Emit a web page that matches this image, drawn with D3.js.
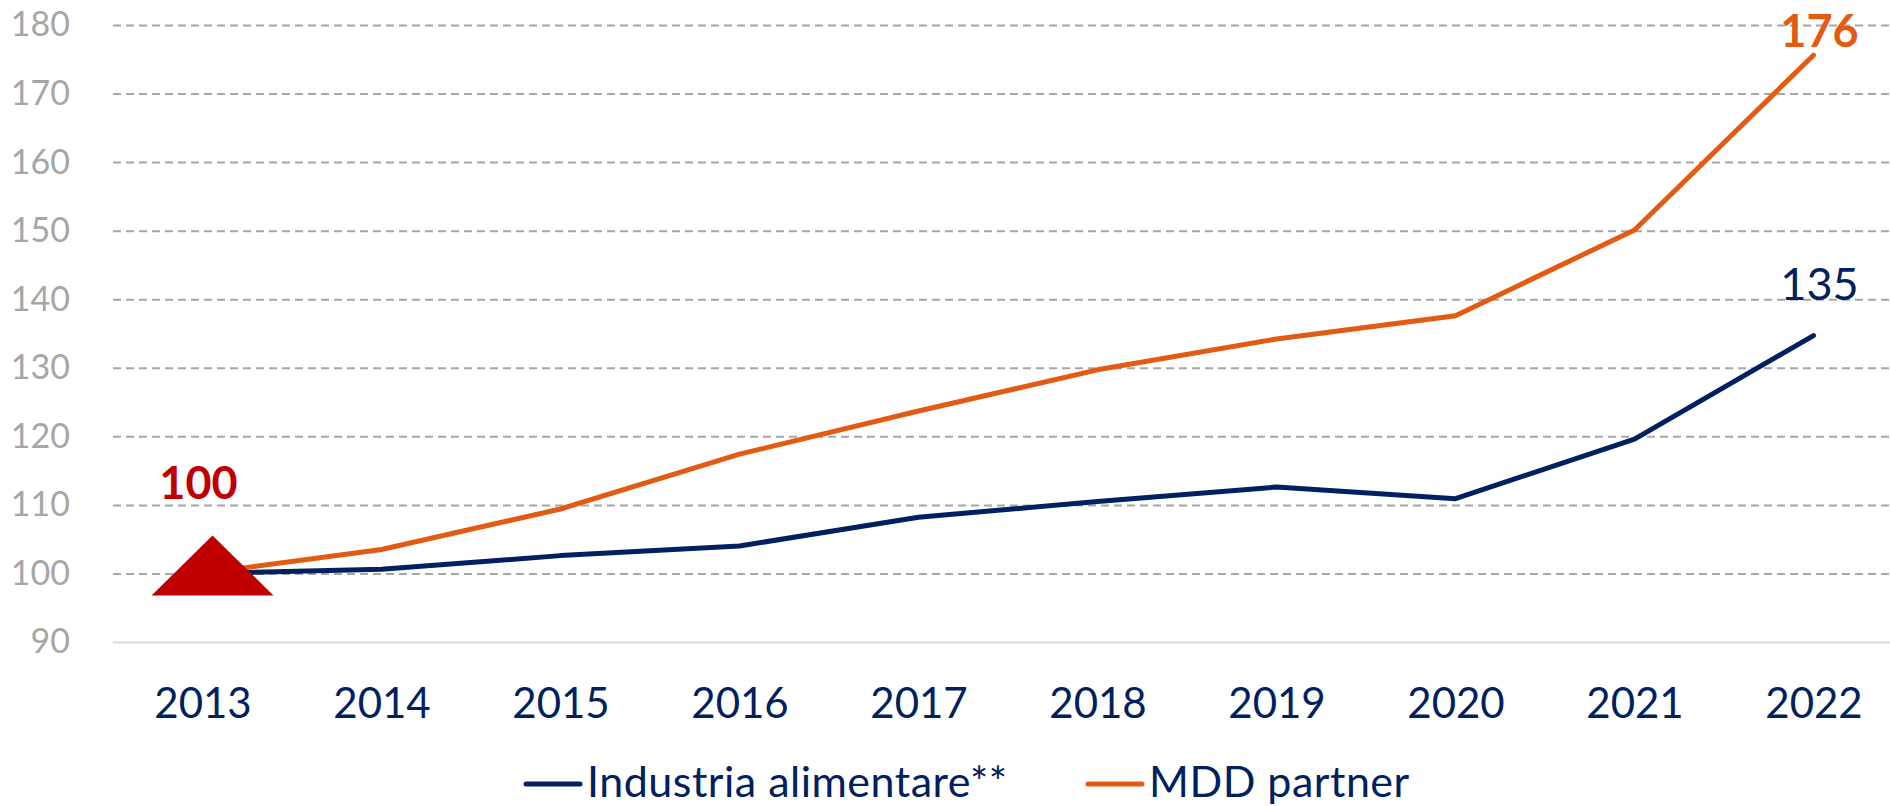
<!DOCTYPE html>
<html>
<head>
<meta charset="utf-8">
<script src="https://cdn.jsdelivr.net/npm/d3@7"></script>
<style>
	body { margin: 0; background: #fff; }
	svg { display: block; font-family: "Lato", "Open Sans", sans-serif; }
	svg text { font-family: "Lato", "Open Sans", sans-serif; }
</style>
</head>
<body>
<div id="chart-area"></div>
<script>

// DATA //
var years = ["2013", "2014", "2015", "2016", "2017", "2018", "2019", "2020", "2021", "2022"];
var industria = [100, 100.6, 102.6, 104.0, 108.2, 110.5, 112.6, 110.9, 119.6, 134.7];
var mdd = [100, 103.5, 109.4, 117.4, 123.7, 129.7, 134.2, 137.6, 150.1, 175.6];
var yTicks = [90, 100, 110, 120, 130, 140, 150, 160, 170, 180];
var seriesNames = ["Industria alimentare**", "MDD partner"];
var endLabels = ["135", "176"];
var startLabel = "100";


/*
 *  LineChart - Object constructor function
 *  @param _parentElement   -- HTML element in which to draw the visualization
 */

LineChart = function(_parentElement) {

	this.parentElement = _parentElement;
	this.series = [
		{name: seriesNames[0], values: industria, color: "#002060", label: endLabels[0], bold: false},
		{name: seriesNames[1], values: mdd, color: "#E35A12", label: endLabels[1], bold: true}
	];

	this.initVis();
}


/*
 *  Initialize chart
 */

LineChart.prototype.initVis = function() {
	var vis = this;

	vis.width = 1890;
	vis.height = 806;

	vis.svg = d3.select('#' + vis.parentElement).append("svg")
		.attr("width", vis.width)
		.attr("height", vis.height);

	vis.x = d3.scalePoint()
		.domain(years)
		.range([113, 1903])
		.padding(0.5);

	vis.y = d3.scaleLinear()
		.domain([90, 180])
		.range([642, 25]);

	// Y AXIS + GRID //
	vis.yAxis = d3.axisLeft(vis.y)
		.tickValues(yTicks)
		.tickSize(-(vis.width - 113))
		.tickPadding(43);

	vis.yAxisGroup = vis.svg.append("g")
		.attr("class", "y-axis")
		.attr("transform", "translate(113,0)")
		.call(vis.yAxis);

	vis.yAxisGroup.select(".domain").remove();
	vis.yAxisGroup.selectAll("line")
		.attr("stroke", function(d) { return d === 90 ? "#D9D9D9" : "#A6A6A6"; })
		.attr("stroke-width", 2)
		.attr("stroke-dasharray", function(d) { return d === 90 ? null : "8,5"; });
	vis.yAxisGroup.selectAll("text")
		.attr("fill", "#A6A6A6")
		.style("font-size", "34px");

	// X AXIS //
	vis.xAxis = d3.axisBottom(vis.x)
		.tickSize(0)
		.tickPadding(46);

	vis.xAxisGroup = vis.svg.append("g")
		.attr("class", "x-axis")
		.attr("transform", "translate(0,642)")
		.call(vis.xAxis);

	vis.xAxisGroup.select(".domain").remove();
	vis.xAxisGroup.selectAll("text")
		.attr("fill", "#002060")
		.style("font-size", "42px");

	vis.updateVis();
}


/*
 *  The drawing function
 */

LineChart.prototype.updateVis = function() {
	var vis = this;

	var line = d3.line()
		.x(function(d, i) { return vis.x(years[i]); })
		.y(function(d) { return vis.y(d); });

	vis.svg.selectAll(".series")
		.data(vis.series)
		.enter().append("path")
		.attr("class", "series")
		.attr("d", function(d) { return line(d.values); })
		.attr("fill", "none")
		.attr("stroke", function(d) { return d.color; })
		.attr("stroke-width", 5)
		.attr("stroke-linecap", "round")
		.attr("stroke-linejoin", "round");

	// start marker
	var x0 = vis.x(years[0]);
	var y0 = vis.y(industria[0]);
	vis.svg.append("path")
		.attr("d", "M" + (x0 - 51) + "," + (y0 + 22) +
			"L" + (x0 + 10) + "," + (y0 - 38) +
			"L" + (x0 + 71) + "," + (y0 + 22) + "Z")
		.attr("fill", "#C00000");

	vis.svg.append("text")
		.attr("x", x0 - 4)
		.attr("y", y0 - 74)
		.attr("text-anchor", "middle")
		.attr("fill", "#C00000")
		.style("font-size", "45px")
		.style("font-weight", "bold")
		.text(startLabel);

	// end labels
	var last = years.length - 1;
	vis.svg.selectAll(".end-label")
		.data(vis.series)
		.enter().append("text")
		.attr("class", "end-label")
		.attr("x", vis.x(years[last]) + 6)
		.attr("y", function(d) { return vis.y(d.values[last]) + (d.bold ? -8 : -36); })
		.attr("text-anchor", "middle")
		.attr("fill", function(d) { return d.color; })
		.style("font-size", "45px")
		.style("font-weight", function(d) { return d.bold ? "bold" : "normal"; })
		.text(function(d) { return d.label; });

	// LEGEND //
	var legendX = [526, 1088];
	var legend = vis.svg.selectAll(".legend")
		.data(vis.series)
		.enter().append("g")
		.attr("class", "legend")
		.attr("transform", function(d, i) { return "translate(" + legendX[i] + ",784)"; });

	legend.append("line")
		.attr("x1", 0)
		.attr("x2", 54)
		.attr("stroke", function(d) { return d.color; })
		.attr("stroke-width", 5)
		.attr("stroke-linecap", "round");

	legend.append("text")
		.attr("x", 61)
		.attr("y", 13)
		.attr("fill", "#002060")
		.style("font-size", "43px")
		.style("letter-spacing", "0.5px")
		.text(function(d) { return d.name; });
}


var chart = new LineChart("chart-area");

</script>
</body>
</html>
